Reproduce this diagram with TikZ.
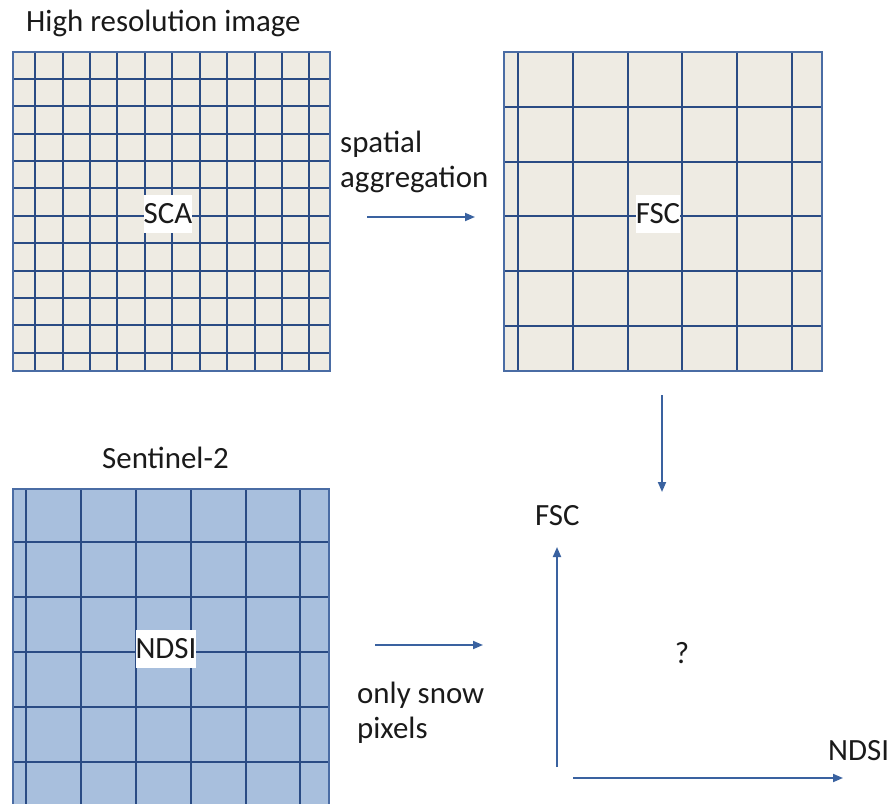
\documentclass[tikz,border=0pt]{standalone}
\usepackage{fontspec}
\setmainfont{Carlito}
\usetikzlibrary{arrows.meta}

\definecolor{gridline}{HTML}{2A4B84}
\definecolor{frameline}{HTML}{4A6CA4}
\definecolor{arrowblue}{HTML}{3A62A0}
\definecolor{beige}{HTML}{EEEBE3}
\definecolor{paleblue}{HTML}{A8BFDD}
\definecolor{ink}{HTML}{1A1A1A}

\tikzset{
  gridrule/.style={draw=gridline, line width=2.4bp},
  gridframe/.style={draw=frameline, line width=1.8bp},
  celllabel/.style={fill=white, text=ink, inner xsep=0pt, inner ysep=0pt,
    minimum height=38bp, font=\fontsize{31}{35}\selectfont},
  caption/.style={text=ink, inner sep=0pt, align=left,
    font=\fontsize{31}{35}\selectfont},
  flow/.style={draw=arrowblue, line width=1.8bp,
    -{Triangle[length=10bp,width=8bp]}},
}

\begin{document}
\begin{tikzpicture}[x=1bp, y=-1bp]
\useasboundingbox (0,0) rectangle (890,804);

% ---- fine grid: high resolution snow map
\filldraw[fill=beige, gridframe] (13,52) rectangle (330,371);
\foreach \v in {35,63,90,117,145,172,200,227,255,282,309}
  \draw[gridrule] (\v,53) -- (\v,370);
\foreach \h in {79,106,134,161,188,216,243,271,298,325,353}
  \draw[gridrule] (14,\h) -- (329,\h);
\node[celllabel] (sca) at (168,214) {SCA};
\node[caption, anchor=base west] (hires) at (26,32) {High resolution image};

% ---- coarse grid: aggregated fraction
\filldraw[fill=beige, gridframe] (504,52) rectangle (822,371);
\foreach \v in {518,573,628,682,737,792}
  \draw[gridrule] (\v,53) -- (\v,370);
\foreach \h in {107,162,216,271,326}
  \draw[gridrule] (505,\h) -- (821,\h);
\node[celllabel] (fsc) at (658,214) {FSC};

% ---- Sentinel-2 grid (runs past the lower edge)
\begin{scope}
\clip (0,0) rectangle (890,804);
\filldraw[fill=paleblue, gridframe] (13,489) rectangle (329,806);
\foreach \v in {26,81,136,191,246,300}
  \draw[gridrule] (\v,490) -- (\v,806);
\foreach \h in {542,597,652,707,762}
  \draw[gridrule] (14,\h) -- (328,\h);
\end{scope}
\node[celllabel] (ndsi) at (166,649) {NDSI};
\node[caption, anchor=base west] (s2) at (102,468) {Sentinel-2};

% ---- aggregation step (base anchor sits on the last line)
\node[caption, anchor=base west] (agg) at (340,187) {spatial\\aggregation};
\coordinate (aggA) at (367,217);
\coordinate (aggB) at (475,217);
\draw[flow] (aggA) -- (aggB);

% ---- down to the scatter plot
\coordinate (downA) at (662,395);
\coordinate (downB) at (662,492);
\draw[flow] (downA) -- (downB);

% ---- snow pixels to the scatter plot
\coordinate (snowA) at (375,645);
\coordinate (snowB) at (483,645);
\draw[flow] (snowA) -- (snowB);
\node[caption, anchor=base west] (snow) at (357,738) {only snow\\pixels};

% ---- FSC vs NDSI axes
\coordinate (yaxA) at (557,767);
\coordinate (yaxB) at (557,547);
\coordinate (xaxA) at (573,778);
\coordinate (xaxB) at (843,778);
\draw[flow] (yaxA) -- (yaxB);
\draw[flow] (xaxA) -- (xaxB);
\node[caption, anchor=base west] (fscax) at (535,525) {FSC};
\node[caption, anchor=base west] (ndsiax) at (828,760) {NDSI};
\node[caption] (q) at (682,653) {?};
\end{tikzpicture}
\end{document}
